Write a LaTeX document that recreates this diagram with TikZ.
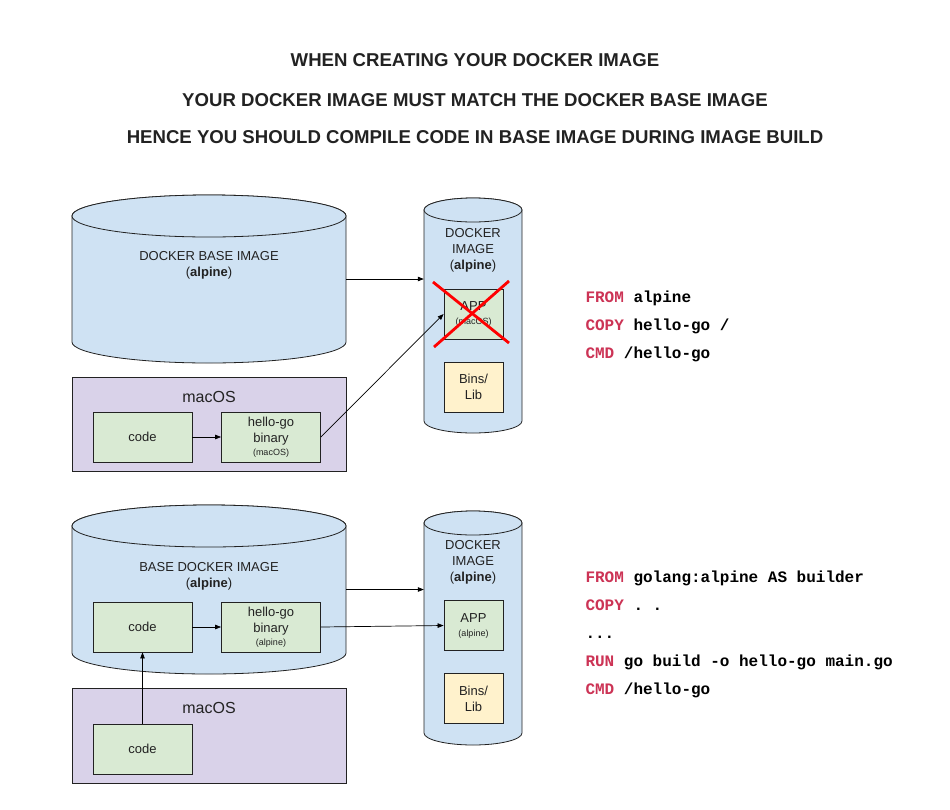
\documentclass[tikz,border=0pt]{standalone}
\usepackage{fontspec}
\setmainfont{Liberation Sans}
\setmonofont{Liberation Mono}
\usetikzlibrary{arrows.meta}
\definecolor{cylblue}{HTML}{CFE2F3}
\definecolor{macpurple}{HTML}{D9D2E9}
\definecolor{boxgreen}{HTML}{D9EAD3}
\definecolor{libyellow}{HTML}{FFF2CC}
\definecolor{kwred}{HTML}{CC3355}
\definecolor{ink}{HTML}{222222}
\tikzset{
    %Define standard arrow tip
    >={Triangle[length=6pt,width=4.5pt]},
}
\newcommand{\kw}[1]{\textcolor{kwred}{#1}}
\newcommand{\fsz}[2]{\fontsize{#1}{#2}\selectfont}
\newcommand{\skipline}{...}
% drum: name, centre x, x radius, top y, bottom y, y radius
\newcommand{\drum}[6]{%
  \draw[cyl] (#2-#3,#4) -- (#2-#3,#5)
    arc[start angle=180, end angle=0, x radius=#3, y radius=#6]
    -- (#2+#3,#4)
    arc[start angle=0, end angle=-180, x radius=#3, y radius=#6] -- cycle;
  \draw[cyl] (#2,#4) ellipse[x radius=#3, y radius=#6];
  \node[inner sep=0, minimum width=2*#3, minimum height=#5-#4] (#1) at (#2,{(#4+#5)/2}) {};
}
\begin{document}
\begin{tikzpicture}[
  x=1pt, y=-1pt,
  every node/.style = {font=\fsz{13}{16}, text=ink, align=center},
  cyl/.style = {draw=ink, line width=0.8pt, fill=cylblue},
  box/.style = {draw=ink, line width=0.8pt, fill=boxgreen, inner sep=0,
                minimum width=99pt, minimum height=50pt},
  appbox/.style = {box, minimum width=59pt},
  libbox/.style = {box, fill=libyellow, minimum width=59pt},
  host/.style = {draw=ink, line width=0.8pt, fill=macpurple, inner sep=0,
                 minimum width=274pt, minimum height=94pt},
  hosttxt/.style = {font=\fsz{16}{19}},
  title/.style = {font=\fsz{18.6}{22}\bfseries},
  cmd/.style = {anchor=base west, font=\fsz{16}{19}\ttfamily\bfseries, text=black},
  conn/.style = {->, draw=black, line width=0.7pt},
  cross/.style = {draw=red, line width=2.8pt} ]
  \useasboundingbox (0,0) rectangle (950,809);

  \node[title] (title1) at (475,60) {WHEN CREATING YOUR DOCKER IMAGE};
  \node[title] (title2) at (475,100) {YOUR DOCKER IMAGE MUST MATCH THE DOCKER BASE IMAGE};
  \node[title] (title3) at (475,137) {HENCE YOU SHOULD COMPILE CODE IN BASE IMAGE DURING IMAGE BUILD};

  % binary compiled on the host
  \drum{baseA}{209}{137}{216}{342}{21}
  \node (baseAtxt) at (209,265) {DOCKER BASE IMAGE\\(\textbf{alpine})};
  \drum{imgA}{473}{49}{210}{421}{12}
  \node (imgAtxt) at (473,250) {DOCKER\\IMAGE\\(\textbf{alpine})};
  \node[appbox] (appA) at (473.5,314) {APP\\[-2pt]{\fsz{9}{11}(macOS)}};
  \node[libbox] (libA) at (473.5,387) {Bins/\\Lib};
  \draw[cross] (433,282) -- (509,343);
  \draw[cross] (509,281) -- (434,347);
  \node[host] (macA) at (209,424) {};
  \node[hosttxt] (macAtxt) at (209,397) {macOS};
  \node[box] (codeA) at (142.5,437) {code};
  \node[box] (hlA) at (271,437) {hello-go\\binary\\[-3pt]{\fsz{9}{11}(macOS)}};
  \draw[conn] (baseA.east) -- (baseA.east -| imgA.west);
  \draw[conn] (codeA) -- (hlA);
  \draw[conn] (hlA.east) -- (appA.west);
  \foreach \cmdtxt [count=\i] in {{\kw{FROM} alpine}, {\kw{COPY} hello-go /}, {\kw{CMD} /hello-go}}
    \node[cmd] (dfA\i) at (582,274+28*\i) {\cmdtxt};

  % binary compiled inside the base image
  \drum{baseB}{209}{137}{526}{653}{21}
  \node (baseBtxt) at (209,576.5) {BASE DOCKER IMAGE\\(\textbf{alpine})};
  \node[box] (codeB) at (142.5,627) {code};
  \node[box] (hlB) at (271,627) {hello-go\\binary\\[-3pt]{\fsz{9}{11}(alpine)}};
  \drum{imgB}{473}{49}{523}{733}{12}
  \node (imgBtxt) at (473,562) {DOCKER\\IMAGE\\(\textbf{alpine})};
  \node[appbox] (appB) at (473.5,625.5) {APP\\[-2pt]{\fsz{9}{11}(alpine)}};
  \node[libbox] (libB) at (473.5,698.5) {Bins/\\Lib};
  \node[host, minimum height=95pt] (macB) at (209,735.5) {};
  \node[hosttxt] (macBtxt) at (209,708) {macOS};
  \node[box] (codeC) at (142.5,749) {code};
  \draw[conn] (baseB.east) -- (baseB.east -| imgB.west);
  \draw[conn] (codeB) -- (hlB);
  \draw[conn] (hlB.east) -- (appB.west);
  \draw[conn] (codeC) -- (codeB);
  \foreach \cmdtxt [count=\i] in {{\kw{FROM} golang:alpine AS builder}, {\kw{COPY} . .}, {\skipline},
                              {\kw{RUN} go build -o hello-go main.go}, {\kw{CMD} /hello-go}}
    \node[cmd] (dfB\i) at (582,554+28*\i) {\cmdtxt};
\end{tikzpicture}
\end{document}
